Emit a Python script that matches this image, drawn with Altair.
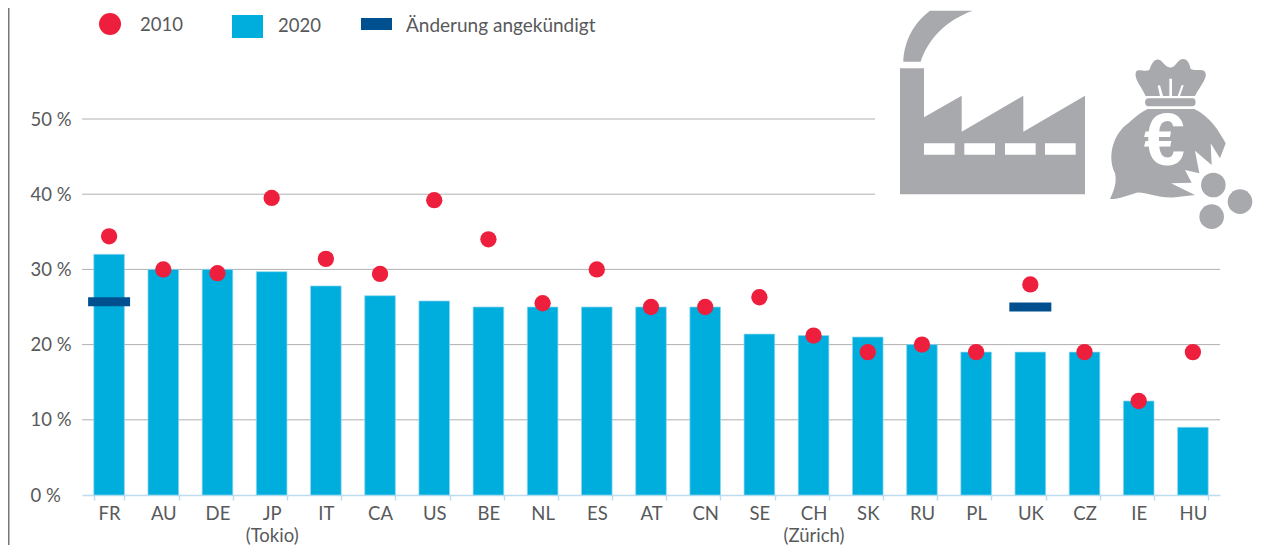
import altair as alt
import pandas as pd

countries = ["FR","AU","DE","JP","IT","CA","US","BE","NL","ES","AT","CN","SE","CH","SK","RU","PL","UK","CZ","IE","HU"]
v2010 = [34.4,30,29.5,39.5,31.4,29.4,39.2,34,25.5,30,25,25,26.3,21.2,19,20,19,28,19,12.5,19]
v2020 = [32,30,30,29.7,27.8,26.5,25.8,25,25,25,25,25,21.4,21.2,21,20,19,19,19,12.5,9]
ann_c = ["FR","UK"]
ann_v = [25.7,25.0]
grid_full = [10,20,30]
grid_short = [40,50]
yticks = [0,10,20,30,40,50]

RED="#ee1f3d"; CYAN="#00aede"; DARK="#00508f"; ICON="#a7a9ac"; GRID="#b0b0b0"; TXT="#58595b"; BASE="#bcdcf0"
FONT="Lato"; FS=18.5
OX=82; OY=8; W=1138; H=487
ppu=7.52
yd=[0,H/ppu]

df=pd.DataFrame({"c":countries,"a":v2010,"b":v2020})
dfa=pd.DataFrame({"c":ann_c,"v":ann_v})
xs=alt.Scale(domain=countries,paddingInner=0.435,paddingOuter=0.2175)
ys=alt.Scale(domain=yd,nice=False)

xaxis=alt.Axis(
    title=None,labelAngle=0,labelFont=FONT,labelFontSize=FS,labelColor=TXT,labelPadding=4,
    labelLineHeight=22,labelBaseline="top",
    labelExpr="datum.value=='JP'?['JP','(Tokio)']:datum.value=='CH'?['CH','(Zürich)']:datum.value",
    domainColor=BASE,tickColor=BASE,tickSize=5,tickBand="extent",domainWidth=1.5,tickWidth=1.5)
yaxis=alt.Axis(
    title=None,values=yticks,grid=False,domain=False,ticks=False,labelFont=FONT,labelFontSize=FS,labelColor=TXT,
    labelAlign="left",labelPadding=52,labelExpr="datum.value+' %'")

one=alt.Data(values=[{}])
def X(px): return alt.value(px-OX)
def Y(py): return alt.value(py-OY)

# icon outlines, in zoomed-crop coordinates of the picture
def path(cmds,cx=1050,cy=110,half=300):
    out=[]
    for c in cmds:
        if isinstance(c,str): out.append(c)
        else:
            px=880+c[0]/3; py=c[1]/3
            out.append(f"{(px-cx)/half:.4f},{(py-cy)/half:.4f}")
    return " ".join(out)

factory=["M",(60,205),"L",(132,205),"L",(132,352),"L",(245,287),"L",(245,395),"L",(430,287),"L",(430,395),"L",(615,287),"L",(615,583),"L",(60,583),"Z"]
for x0,x1 in [(132,224),(253,345),(375,467),(495,587)]:
    factory+=["M",(x0,430),"L",(x0,464),"L",(x1,464),"L",(x1,430),"Z"]
factory+=["M",(70,185),"C",(72,120),(105,65),(150,32),"L",(278,32),"C",(200,60),(145,115),(122,185),"Z"]

bag=["M",(768,215),"C",(775,205),(795,217),(808,210),"C",(820,172),(838,172),(850,190),"C",(865,207),(878,207),(890,190),
     "C",(905,170),(925,172),(932,207),"C",(945,214),(965,205),(975,215),"C",(985,232),(962,255),(945,288),
     "L",(900,288),"L",(911,256),"L",(905,255),"L",(893,288),"L",(876,288),"L",(876,236),"L",(868,236),"L",(868,288),
     "L",(849,288),"L",(840,256),"L",(833,257),"L",(840,288),"L",(797,288),"C",(785,260),(760,235),(768,215),"Z",
     "M",(805,295),"L",(938,295),"C",(950,295),(950,319),(938,319),"L",(805,319),"C",(792,319),(792,295),(805,295),"Z",
     "M",(803,327),"L",(943,327),"C",(990,350),(1015,390),(1037,430),"L",(1020,475),"L",(992,430),"L",(995,495),"L",(945,452),
     "L",(958,520),"L",(915,510),"L",(935,548),"L",(873,550),"L",(945,585),"L",(885,592),"C",(835,596),(795,575),(770,578),
     "C",(745,585),(715,598),(690,597),"C",(700,575),(712,550),(705,520),"C",(680,470),(700,400),(745,370),"C",(765,350),(785,335),(803,327),"Z"]

def icon(cmds):
    return alt.Chart(one).mark_point(shape=path(cmds),size=360000,filled=True,fill=ICON,opacity=1,strokeWidth=0).encode(x=X(1050),y=Y(110))

def dot(px,py,area,color):
    return alt.Chart(one).mark_point(shape="circle",size=area,filled=True,fill=color,opacity=1,strokeWidth=0).encode(x=X(px),y=Y(py))

def label(px,py,s,**kw):
    o=dict(align="left",baseline="middle",font=FONT,fontSize=FS,fill=TXT); o.update(kw)
    return alt.Chart(one).mark_text(**o).encode(x=X(px),y=Y(py),text=alt.value(s))

x_enc=alt.X("c:N",sort=countries,scale=xs,axis=xaxis)

def rules(vals,px1):
    d=pd.DataFrame({"v":vals})
    return alt.Chart(d).mark_rule(color=GRID,strokeWidth=1).encode(y=alt.Y("v:Q",scale=ys,axis=yaxis),x=X(OX),x2=X(px1))

bars=alt.Chart(df).mark_bar(color=CYAN,stroke="#8fd6ef",strokeWidth=0.7).encode(x=x_enc,y=alt.Y("b:Q",scale=ys,axis=yaxis))
ticks=alt.Chart(dfa).mark_tick(color=DARK,size=42,thickness=9,opacity=1).encode(x=x_enc,y=alt.Y("v:Q",scale=ys,axis=yaxis))
points=alt.Chart(df).mark_point(shape="circle",size=266,filled=True,fill=RED,opacity=1,strokeWidth=0).encode(x=x_enc,y=alt.Y("a:Q",scale=ys,axis=yaxis))

border=alt.Chart(one).mark_rule(color="#777777",strokeWidth=1.5).encode(x=X(8.75),y=Y(8),y2=Y(545))

legend=[dot(110,24,484,RED),label(140,25,"2010"),
        alt.Chart(one).mark_rect(color=CYAN).encode(x=X(232),x2=X(263),y=Y(15),y2=Y(38)),label(278,26,"2020"),
        alt.Chart(one).mark_rect(color=DARK).encode(x=X(361),x2=X(392),y=Y(18),y2=Y(30)),label(406,26,"Änderung angekündigt",fontSize=19)]
coins=[dot(880+1000/3,555/3,605,ICON),dot(880+1080/3,605/3,605,ICON),dot(880+995/3,650/3,605,ICON)]
euro=alt.Chart(one).mark_text(text="€",font="Liberation Sans",fontWeight="bold",fontSize=74,fill="white",align="center",baseline="middle").encode(x=X(880+853/3),y=Y(430/3))

chart=alt.layer(border,rules(grid_full,1220),rules(grid_short,875),bars,ticks,points,
    icon(factory),icon(bag),euro,*coins,*legend).resolve_scale(x="shared",y="shared").properties(
    width=W,height=H,autosize=alt.AutoSizeParams(type="none"),
    padding={"left":OX-8,"top":0,"right":37,"bottom":50},background="white"
).configure_view(stroke=None)
chart.save("out.html",embed_options={"renderer":"svg","actions":False})
